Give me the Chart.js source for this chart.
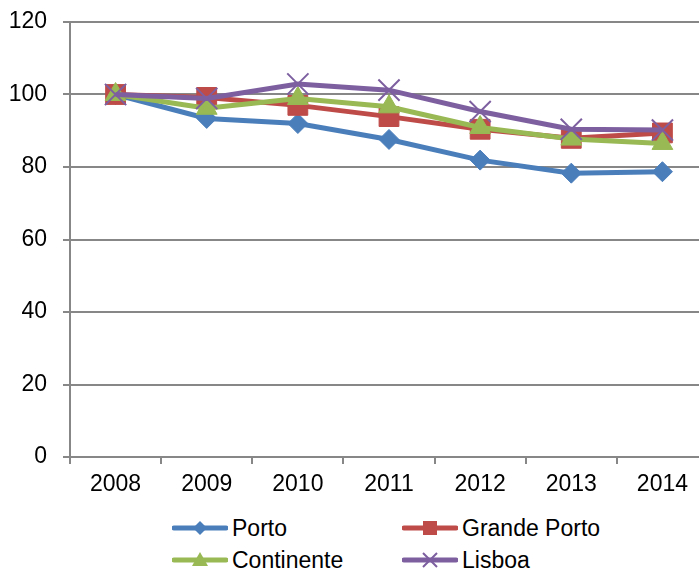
<!DOCTYPE html>
<html>
<head>
<meta charset="utf-8">
<script src="https://cdn.jsdelivr.net/npm/chart.js@4/dist/chart.umd.min.js"></script>
<style>
  html, body { margin: 0; padding: 0; background: #fff; overflow: hidden; width: 699px; height: 572px; }
  #wrap { position: relative; width: 725px; height: 500px; }
  #legend { position: absolute; left: 0; top: 508px; width: 699px; height: 64px;
            font-family: "Liberation Sans", Arial, sans-serif; font-size: 23px; color: #000; }
  .item { position: absolute; display: flex; align-items: center; height: 30px; white-space: nowrap; }
  .item svg { margin-right: 4px; }
</style>
</head>
<body>
<div id="wrap"><canvas id="c" width="725" height="500"></canvas></div>
<div id="legend"></div>
<script>
const years = ['2008', '2009', '2010', '2011', '2012', '2013', '2014'];
const porto = [100, 93.4, 92.0, 87.6, 81.9, 78.3, 78.7];
const grandePorto = [100, 99.2, 97.0, 93.9, 90.4, 87.9, 89.4];
const continente = [100, 96.2, 98.9, 96.6, 90.9, 87.7, 86.5];
const lisboa = [100, 98.9, 102.9, 101.2, 95.3, 90.4, 90.2];
const yTicks = [0, 20, 40, 60, 80, 100, 120];

const FONT = '"Liberation Sans", Arial, sans-serif';
const GRID = '#878787';

const series = [
  { label: 'Porto', data: porto, color: '#4A7EBB', style: 'rectRot', radius: 10, bw: 1, order: 4 },
  { label: 'Grande Porto', data: grandePorto, color: '#BE4B48', style: 'rect', radius: 14, bw: 1, order: 3 },
  { label: 'Continente', data: continente, color: '#98B954', style: 'triangle', radius: 12, bw: 1, order: 2 },
  { label: 'Lisboa', data: lisboa, color: '#7D5FA0', style: 'crossRot', radius: 15, bw: 2, order: 1 }
];

new Chart(document.getElementById('c'), {
  type: 'line',
  data: {
    labels: years,
    datasets: series.map(s => ({
      label: s.label,
      data: s.data,
      borderColor: s.color,
      backgroundColor: s.color,
      borderWidth: 5,
      pointStyle: s.style,
      pointRadius: s.radius,
      pointBorderWidth: s.bw,
      pointBackgroundColor: s.color,
      pointBorderColor: s.color,
      tension: 0,
      order: s.order
    }))
  },
  options: {
    responsive: false,
    animation: false,
    events: [],
    layout: { padding: { top: 22, right: 0, bottom: 0, left: 0 } },
    plugins: { legend: { display: false }, tooltip: { enabled: false } },
    scales: {
      x: {
        offset: true,
        border: { color: GRID, width: 2 },
        grid: { offset: true, drawOnChartArea: false, drawTicks: true, tickLength: 7, color: GRID, lineWidth: 2 },
        ticks: { color: '#000', font: { family: FONT, size: 23 }, padding: 7, maxRotation: 0 },
        afterFit: (scale) => { scale.height = 43; scale.paddingLeft = 0; scale.paddingRight = 0; }
      },
      y: {
        min: 0,
        max: 120,
        afterBuildTicks: (scale) => { scale.ticks = yTicks.map(v => ({ value: v })); },
        border: { color: GRID, width: 2 },
        grid: { color: GRID, lineWidth: 2, tickLength: 7, drawTicks: true },
        ticks: { color: '#000', font: { family: FONT, size: 23 }, padding: 16 },
        afterFit: (scale) => { scale.width = 70; scale.paddingTop = 0; scale.paddingBottom = 0; }
      }
    }
  }
});

// Legend: two columns, line-with-marker symbols
function symbol(s) {
  const c = s.color;
  let m = '';
  if (s.style === 'rectRot') m = `<polygon points="28,2 35,9 28,16 21,9" fill="${c}"/>`;
  else if (s.style === 'rect') m = `<rect x="21" y="2" width="14" height="14" fill="${c}"/>`;
  else if (s.style === 'triangle') m = `<polygon points="28,1 36,15 20,15" fill="${c}"/>`;
  else m = `<path d="M21,2 L35,16 M35,2 L21,16" stroke="${c}" stroke-width="2"/>`;
  return `<svg width="56" height="18" viewBox="0 0 56 18"><line x1="2" y1="9" x2="54" y2="9" stroke="${c}" stroke-width="5" stroke-linecap="round"/>${m}</svg>`;
}
const pos = [[172, 5], [402, 5], [172, 37], [402, 37]];
const lg = document.getElementById('legend');
series.forEach((s, i) => {
  const d = document.createElement('div');
  d.className = 'item';
  d.style.left = pos[i][0] + 'px';
  d.style.top = pos[i][1] + 'px';
  d.innerHTML = symbol(s) + '<span>' + s.label + '</span>';
  lg.appendChild(d);
});
</script>
</body>
</html>
